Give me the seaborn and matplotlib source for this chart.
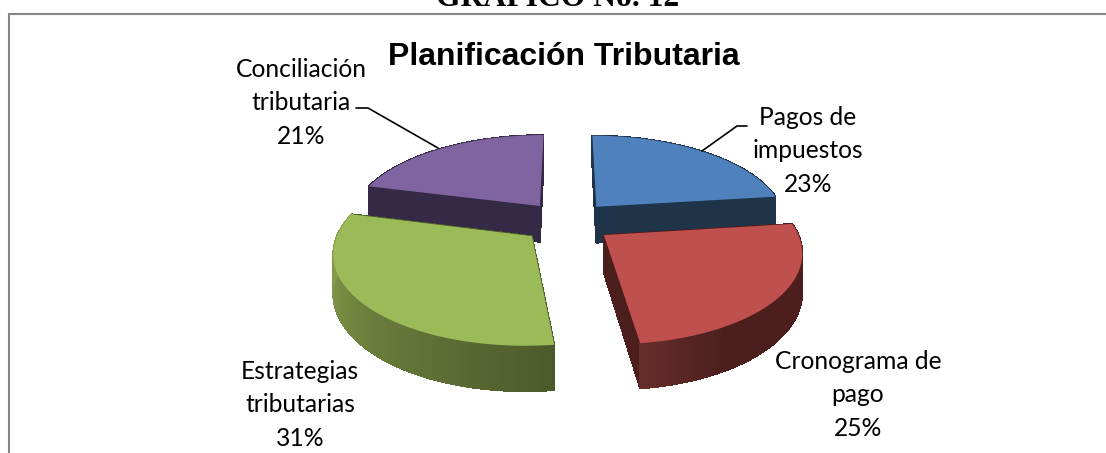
import numpy as np
import matplotlib
matplotlib.use("Agg")
import matplotlib.pyplot as plt
import matplotlib.colors as mc
import seaborn as sns

# ---- data ----
categories = ["Pagos de\nimpuestos", "Cronograma de\npago", "Estrategias\ntributarias", "Conciliación\ntributaria"]
values = [23, 25, 31, 21]
top_colors = ["#4F81BD", "#C0504D", "#9BBB59", "#8064A2"]
wall_start = ["#1F3349", "#652D2A", "#4C5A2A", "#352A45"]   # outer wall colour, slice end nearest the cut
wall_end = ["#1F3349", "#4C1F1D", "#8FA650", "#352A45"]
cut_colors = ["#1F3349", "#4C1F1D", "#4C5A2A", "#352A45"]
label_xy = [(808, 151), (858, 395), (300, 405), (301, 103)]
title = "Planificación Tributaria"
header = "GRÁFICO No. 12"

# ---- projection of the exploded 3-D pie ----
CX, CY, A, B, P, EXPLODE, H = 567, 222, 190, 87, 0.16, 0.24, 37


def project(x, y, drop=0.0):
    w = 1 + P * y
    return CX + A * x / w, CY - B * y / w + drop * H / w


sns.set_theme(style="white")
plt.rcParams["font.family"] = ["Lato", "DejaVu Sans"]
fig = plt.figure(figsize=(11.06, 4.53), dpi=100, facecolor="white")
ax = fig.add_axes([0, 0, 1, 1])
ax.set_xlim(0, 1106)
ax.set_ylim(453, 0)
ax.axis("off")

# chart frame
ax.plot([1106, 8.5, 8.5], [14, 14, 453], color="#868686", lw=1.5, solid_joinstyle="miter")

fractions = np.array(values) / sum(values)
edges = np.concatenate([[0], np.cumsum(fractions)]) * 2 * np.pi


def mix(c1, c2, t):
    return tuple(np.array(mc.to_rgb(c1)) * (1 - t) + np.array(mc.to_rgb(c2)) * t)


def wall(xs, ys, color):
    tx, ty = project(xs, ys)
    bx, by = project(xs, ys, 1)
    ax.fill(np.r_[tx, bx[::-1]], np.r_[ty, by[::-1]], color=color, lw=0.6, antialiased=False)


def draw_slice(i):
    t0, t1 = edges[i], edges[i + 1]
    mid = (t0 + t1) / 2
    ox, oy = EXPLODE * np.sin(mid), EXPLODE * np.cos(mid)
    th = np.linspace(t0, t1, 150)
    x, y = ox + np.sin(th), oy + np.cos(th)
    # radial cut faces
    for t in (t1, t0):
        wall(np.array([ox, ox + np.sin(t)]), np.array([oy, oy + np.cos(t)]), cut_colors[i])
    # outer wall with a gradient along the arc
    for k in range(len(th) - 1):
        f = k / (len(th) - 2)
        if i == 1:  # red wall stays dark except close to the front cut
            c = mix(wall_end[i], wall_start[i], max(0, (f - 0.75) / 0.25))
        else:
            c = mix(wall_start[i], wall_end[i], f)
        wall(x[k:k + 2], y[k:k + 2], c)
    # top surface
    px, py = project(np.r_[ox, x], np.r_[oy, y])
    ax.fill(px, py, color=top_colors[i], lw=0)


# back slices first, then the front ones
for i in (3, 0, 2, 1):
    draw_slice(i)

# leader lines
ax.plot([356, 368, 438], [108, 108, 148], color="black", lw=1.2)
ax.plot([702, 737, 747], [151, 126, 126], color="black", lw=1.2)

# labels
for cat, v, (lx, ly) in zip(categories, values, label_xy):
    ax.text(lx, ly, f"{cat}\n{v}%", ha="center", va="center", fontsize=17.7,
            color="black", linespacing=1.55, family=["Lato", "DejaVu Sans"])

ax.text(564, 57, title, ha="center", va="center", fontsize=23, fontweight="bold",
        family="Liberation Sans", color="black")
ax.text(558, 6, header, ha="center", va="baseline", fontsize=22.8, fontweight="bold",
        family="Liberation Serif", color="black")

fig.savefig("out.png", dpi=100, facecolor="white")
